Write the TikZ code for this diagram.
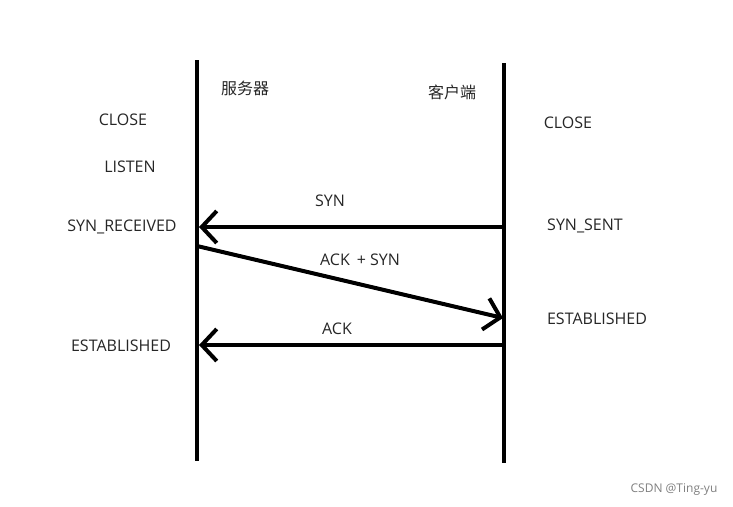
\documentclass[tikz,border=0pt]{standalone}
\usepackage{fontspec}
\setmainfont{Open Sans}
\newfontfamily\cjk{Noto Sans CJK SC}
\usetikzlibrary{arrows.meta}
\begin{document}
\begin{tikzpicture}[x=1pt,y=-1pt,
  lifeline/.style={line width=4pt},
  msg/.style={line width=4pt,-{Straight Barb[length=15pt,width=32pt,line width=4pt]}},
  lbl/.style={font=\fontsize{16}{18}\selectfont,inner sep=0pt,text=black!85},
  cn/.style={font=\cjk\fontsize{16}{18}\selectfont,inner sep=0pt,text=black!85}]
\useasboundingbox[fill=white] (0,0) rectangle (733,506);
% lifelines
\coordinate (sTop) at (197,60);
\coordinate (sBot) at (197,461);
\coordinate (cTop) at (504,63);
\coordinate (cBot) at (504,463);
\draw[lifeline] (sTop) -- (sBot);
\draw[lifeline] (cTop) -- (cBot);
% headers
\node[cn] (server) at (245,88) {服务器};
\node[cn] (client) at (452,92) {客户端};
% server states
\node[lbl] (sclose) at (123,120) {CLOSE};
\node[lbl] (listen) at (130,167) {LISTEN};
\node[lbl] (synrcv) at (122,227) {SYN\_RECEIVED};
\node[lbl] (sest) at (121,346) {ESTABLISHED};
% client states
\node[lbl] (cclose) at (568,123) {CLOSE};
\node[lbl] (synsent) at (585,226) {SYN\_SENT};
\node[lbl] (cest) at (597,319) {ESTABLISHED};
% messages
\coordinate (m1s) at (504,227);
\coordinate (m1e) at (199,227);
\coordinate (m2s) at (197,246);
\coordinate (m2e) at (503,318);
\coordinate (m3s) at (504,345);
\coordinate (m3e) at (199,345);
\draw[msg] (m1s) -- (m1e);
\draw[msg] (m2s) -- (m2e);
\draw[msg] (m3s) -- (m3e);
\node[lbl] (syn) at (330,201) {SYN};
\node[lbl] (acksyn) at (360,260) {ACK\hspace{7pt}+\hspace{4pt}SYN};
\node[lbl] (ack) at (337,329) {ACK};
% watermark
\node[lbl,font=\fontsize{12}{14}\selectfont,text=gray] (wm) at (674,490) {CSDN @Ting-yu};
\end{tikzpicture}
\end{document}
